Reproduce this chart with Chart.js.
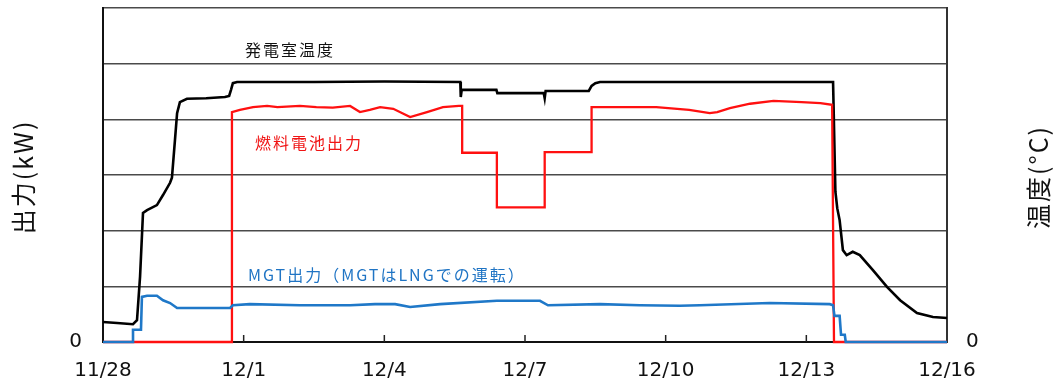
<!DOCTYPE html>
<html lang="ja">
<head>
<meta charset="utf-8">
<title>発電室温度・燃料電池出力・MGT出力</title>
<script src="https://cdn.jsdelivr.net/npm/chart.js@4.4.1/dist/chart.umd.min.js"></script>
<style>
  html, body { margin: 0; padding: 0; background: #fff; }
  canvas { display: block; }
</style>
</head>
<body>
<canvas id="plant-chart" width="1055" height="383"></canvas>
<script>
// x = days since 11/28, y = gridline units (the axes only label 0)
const dateLabels = ["11/28", "12/1", "12/4", "12/7", "12/10", "12/13", "12/16"];

// 発電室温度 (right axis)
const tempDays = [0, 0.30, 0.64, 0.725, 0.79, 0.853, 0.94, 1.15, 1.28, 1.43, 1.47, 1.535, 1.58, 1.64, 1.79, 2.20, 2.60,
  2.69, 2.73, 2.77, 2.86, 4.50, 6.00, 7.62, 7.63, 7.65, 7.70, 8.39, 8.41, 9.40, 9.42, 9.44, 10.36, 10.42, 10.50,
  10.60, 12.50, 15.57, 15.62, 15.66, 15.71, 15.78, 15.86, 15.99, 16.14, 16.42, 16.72, 17.00, 17.36, 17.70, 18.00];
const tempVals = [0.36, 0.34, 0.32, 0.39, 1.17, 2.32, 2.37, 2.46, 2.64, 2.86, 2.95, 3.63, 4.11, 4.31, 4.37, 4.38, 4.40,
  4.42, 4.53, 4.65, 4.67, 4.67, 4.68, 4.67, 4.40, 4.53, 4.53, 4.53, 4.47, 4.47, 4.38, 4.51, 4.51, 4.60, 4.65,
  4.67, 4.67, 4.67, 2.70, 2.40, 2.19, 1.65, 1.56, 1.62, 1.56, 1.29, 0.99, 0.75, 0.52, 0.45, 0.43];

// 燃料電池出力 (left axis)
const fcDays = [0, 2.75, 2.75, 2.92, 3.20, 3.50, 3.72, 4.20, 4.55, 4.90, 5.27, 5.48, 5.69, 5.91, 6.19, 6.55, 6.91,
  7.25, 7.59, 7.66, 7.66, 8.40, 8.40, 9.42, 9.42, 10.42, 10.42, 11.10, 11.80, 12.50, 12.94, 13.10, 13.37, 13.80,
  14.30, 14.90, 15.30, 15.55, 15.59, 18];
const fcVals = [0, 0, 4.13, 4.17, 4.22, 4.24, 4.22, 4.24, 4.22, 4.21, 4.24, 4.13, 4.17, 4.22, 4.19, 4.04, 4.13,
  4.22, 4.24, 4.24, 3.40, 3.40, 2.42, 2.42, 3.41, 3.41, 4.22, 4.22, 4.22, 4.17, 4.11, 4.13, 4.20, 4.28,
  4.33, 4.31, 4.29, 4.26, 0, 0];

// MGT出力 (left axis)
const mgtDays = [0, 0.64, 0.64, 0.81, 0.83, 0.94, 1.15, 1.28, 1.43, 1.58, 2.07, 2.71, 2.77, 3.13, 4.20, 5.27, 5.80,
  6.23, 6.55, 7.19, 8.40, 9.32, 9.49, 10.60, 11.45, 12.30, 12.73, 14.22, 15.50, 15.57, 15.60, 15.71, 15.74, 15.82,
  15.84, 18];
const mgtVals = [0, 0, 0.22, 0.22, 0.81, 0.83, 0.83, 0.75, 0.70, 0.61, 0.61, 0.61, 0.66, 0.68, 0.66, 0.66, 0.68,
  0.68, 0.63, 0.68, 0.74, 0.74, 0.66, 0.68, 0.66, 0.65, 0.66, 0.70, 0.68, 0.66, 0.47, 0.47, 0.13, 0.13,
  0, 0];

const toPoints = (xs, ys) => xs.map((x, i) => ({ x, y: ys[i] }));

const decorations = {
  id: 'decorations',
  afterDraw(chart) {
    const { ctx, chartArea, scales: { x, y } } = chart;
    ctx.save();

    // short inward ticks on the date axis
    ctx.strokeStyle = '#222';
    ctx.lineWidth = 1.5;
    for (let i = 1; i < dateLabels.length - 1; i++) {
      const px = x.getPixelForValue(i * 3);
      ctx.beginPath();
      ctx.moveTo(px, chartArea.bottom);
      ctx.lineTo(px, chartArea.bottom - 7);
      ctx.stroke();
    }

    // labels inside the plot
    ctx.font = '16px "Noto Sans CJK JP"';
    ctx.letterSpacing = '2px';
    ctx.textBaseline = 'middle';
    ctx.textAlign = 'left';
    const note = (text, color, d, v) => {
      ctx.fillStyle = color;
      ctx.fillText(text, x.getPixelForValue(d), y.getPixelForValue(v));
    };
    note('発電室温度', '#111', 3.03, 5.25);
    note('燃料電池出力', '#f01414', 3.24, 3.57);
    note('MGT出力（MGTはLNGでの運転）', '#1f74c4', 3.09, 1.2);

    // axis titles, both read bottom to top
    ctx.font = '25px "Noto Sans CJK JP"';
    ctx.textAlign = 'center';
    ctx.fillStyle = '#111';
    [['出力(kW)', chartArea.left - 80], ['温度(°C)', chartArea.right + 91]].forEach(([t, px]) => {
      ctx.save();
      ctx.translate(px, 177);
      ctx.rotate(-Math.PI / 2);
      ctx.fillText(t, 0, 0);
      ctx.restore();
    });
    ctx.restore();
  }
};

const tickFont = { family: 'DejaVu Sans', size: 20 };
const zeroOnly = (v) => (v === 0 ? '0' : '');
const fixWidth = (w) => (scale) => {
  scale.width = w;
  scale.paddingTop = 0;
  scale.paddingBottom = 0;
};

const ctx = document.getElementById('plant-chart').getContext('2d');
const plantChart = new Chart(ctx, {
  type: 'line',
  data: {
    datasets: [
      {
        label: 'MGT出力',
        data: toPoints(mgtDays, mgtVals),
        yAxisID: 'y',
        borderColor: '#1f78c8',
        borderWidth: 2.6
      },
      {
        label: '燃料電池出力',
        data: toPoints(fcDays, fcVals),
        yAxisID: 'y',
        borderColor: '#ff1010',
        borderWidth: 2.3
      },
      {
        label: '発電室温度',
        data: toPoints(tempDays, tempVals),
        yAxisID: 'y2',
        borderColor: '#000',
        borderWidth: 2.6
      }
    ]
  },
  options: {
    responsive: false,
    animation: false,
    devicePixelRatio: 1,
    layout: { padding: { top: 8, left: 0, right: 0, bottom: 0 } },
    elements: {
      point: { radius: 0 },
      line: { tension: 0, fill: false }
    },
    datasets: { line: { clip: false } },
    plugins: {
      legend: { display: false },
      tooltip: { enabled: false }
    },
    scales: {
      x: {
        type: 'linear',
        min: 0,
        max: 18,
        afterBuildTicks: (scale) => { scale.ticks = dateLabels.map((_, i) => ({ value: i * 3 })); },
        afterFit: (scale) => { scale.height = 41; },
        ticks: {
          autoSkip: false,
          maxRotation: 0,
          padding: 9,
          color: '#111',
          font: tickFont,
          callback: (v) => dateLabels[Math.round(v / 3)]
        },
        grid: { display: false },
        border: { display: true, color: '#111', width: 2 }
      },
      y: {
        position: 'left',
        min: 0,
        max: 6,
        afterFit: fixWidth(103),
        ticks: { stepSize: 1, padding: 21, color: '#111', font: tickFont, callback: zeroOnly },
        grid: { color: '#4a4a4a', lineWidth: 1.6, drawTicks: false },
        border: { display: true, color: '#111', width: 2 }
      },
      y2: {
        position: 'right',
        min: 0,
        max: 6,
        afterFit: fixWidth(108),
        ticks: { stepSize: 1, padding: 19, color: '#111', font: tickFont, callback: zeroOnly },
        grid: { display: false, drawTicks: false },
        border: { display: true, color: '#333', width: 2 }
      }
    }
  },
  plugins: [decorations]
});
</script>
</body>
</html>
